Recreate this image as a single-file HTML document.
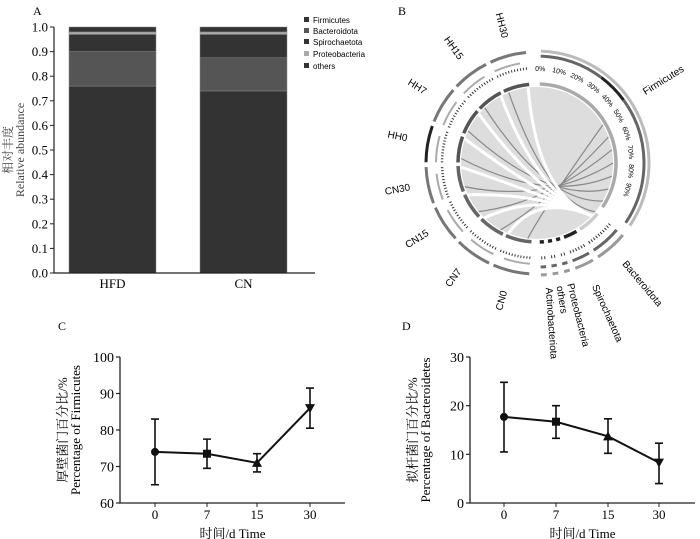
<!DOCTYPE html>
<html><head><meta charset="utf-8"><style>
html,body{margin:0;padding:0;background:#fff;}
svg{display:block;font-family:"Liberation Serif","Noto Serif CJK SC",serif;}
.sans{font-family:"Liberation Sans","Noto Sans CJK SC",sans-serif;}
</style></head><body>
<svg id="fig" width="700" height="539" viewBox="0 0 700 539">
<g id="pa"></g>
<g id="pb"></g>
<g id="pc"></g>
<g id="pd"></g>
</svg>
<script>
// ---- Panel A data ----
const aGroups = ["HFD","CN"];
const aSeries = ["Firmicutes","Bacteroidota","Spirochaetota","Proteobacteria","others"];
const aFirm = [0.76,0.74];
const aBact = [0.14,0.135];
const aSpir = [0.07,0.095];
const aProt = [0.01,0.01];
const aOther = [0.02,0.02];
const aTicks = ["0.0","0.1","0.2","0.3","0.4","0.5","0.6","0.7","0.8","0.9","1.0"];
// ---- Panel C data ----
const cTimes = ["0","7","15","30"];
const cMean = [74,73.5,71,86];
const cLow = [65,69.5,68.5,80.5];
const cHigh = [83,77.5,73.5,91.5];
const cTicks = [60,70,80,90,100];
// ---- Panel D data ----
const dMean = [17.7,16.7,13.7,8.3];
const dLow = [10.5,13.3,10.2,4];
const dHigh = [24.8,20,17.3,12.3];
const dTicks = [0,10,20,30];
// ---- Panel B data ----
const bSamples = ["CN0","CN7","CN15","CN30","HH0","HH7","HH15","HH30"];
const bPhyla = ["Firmicutes","Bacteroidota","Spirochaetota","Proteobacteria","others","Actinobacteriota"];
const bPhylaSpan = [122,17,10,3,3,3];

const NS="http://www.w3.org/2000/svg";
function mk(parent,tag,attrs,text){const e=document.createElementNS(NS,tag);for(const k in attrs)e.setAttribute(k,attrs[k]);if(text!==undefined)e.textContent=text;parent.appendChild(e);return e;}

// ===== Panel A =====
(function(){
const g=document.getElementById('pa');
const x0=54,yB=273,yT=27;
const ys=v=>yB-(yB-yT)*v;
const t=mk(g,'text',{x:33,y:15,'font-size':12},'A');

const colors=["#333","#555","#333","#aaa","#333"];
const cols=[aFirm,aBact,aSpir,aProt,aOther];
const bx=[69,200];const bw=87;
aGroups.forEach((grp,i)=>{
 let acc=0;
 cols.forEach((arr,s)=>{
  const v=arr[i];
  const r=mk(g,'rect',{x:bx[i],y:ys(acc+v),width:bw,height:ys(acc)-ys(acc+v),fill:colors[s],stroke:'#888','stroke-width':0.5});
  
  
  acc+=v;
 });
 const l=mk(g,'text',{x:bx[i]+bw/2,y:288,'font-size':13,'text-anchor':'middle'},grp);
 
});
const ax=mk(g,'path',{d:`M${x0} ${yT} V${yB} H315`,stroke:'#222','stroke-width':1.2,fill:'none'});

aTicks.forEach((tk,i)=>{
 const y=ys(+tk);
 mk(g,'line',{x1:x0-4,x2:x0,y1:y,y2:y,stroke:'#222'});
 const tt=mk(g,'text',{x:x0-6,y:y+4.5,'font-size':13,'text-anchor':'end'},tk);
 
});
const yt=mk(g,'text',{transform:'translate(12,150) rotate(-90)','font-size':12,'text-anchor':'middle',fill:'#444'});

mk(yt,'tspan',{x:0,dy:0},'相对丰度');
mk(yt,'tspan',{x:0,dy:12},'Relative abundance');
const lc=["#333","#555","#333","#aaa","#333"];
const ly=[23,34,45,57,69];
aSeries.forEach((s,i)=>{
 const le=mk(g,'g',{});
 
 mk(le,'rect',{x:304,y:ly[i]-6,width:5,height:5,fill:lc[i]});
 mk(le,'text',{x:313,y:ly[i],'font-size':8,class:'sans'},s);
});
})();

// ===== Panel B =====
(function(){
const g=document.getElementById('pb');
const cx=537,cy=163;
const lb=mk(g,'text',{x:398,y:15,'font-size':12},'B');

const P=(a,r)=>[cx+r*Math.sin(a*Math.PI/180),cy-r*Math.cos(a*Math.PI/180)];
function arc(a1,a2,r,col,w,dash,name){
 const p1=P(a1,r),p2=P(a2,r);const large=(a2-a1)>180?1:0;
 const e=mk(g,'path',{d:`M${p1[0]} ${p1[1]} A${r} ${r} 0 ${large} 1 ${p2[0]} ${p2[1]}`,fill:'none',stroke:col,'stroke-width':w});
 if(dash)e.setAttribute('stroke-dasharray',dash);
 
 return e;
}
const disk=mk(g,'circle',{cx:cx,cy:cy,r:76,fill:'#ddd'});

let a=2;const phyStart=[];
bPhyla.forEach((p,i)=>{
 const s=a,e=a+bPhylaSpan[i];phyStart.push([s,e]);
 const col=i===0?'#aaa':(i===1?'#ccc':'#222');
 arc(s,e,79,col,3.5,null,'inner-arc-'+p.toLowerCase());
 arc(s,e,112,i===0?'#bbb':'#999',3,null,'outer-arc-'+p.toLowerCase());
 if(i===0){arc(s,s+35,107,'#666',3,null,'outer-sub-arc');arc(s+35,s+52,107,'#222',3,null,'outer-sub-arc');arc(s+52,e,107,'#666',3,null,'outer-sub-arc');}
 else arc(s,e,104,'#666',3,null,'outer-sub-arc-'+p.toLowerCase());
 if(i>0)arc(s,e,95,'#333',3,'1 2','tick-ring-'+p.toLowerCase());
 a=e+(i===0?6:3);
});
for(let k=0;k<=9;k++){
 const ang=phyStart[0][0]+k*(bPhylaSpan[0]/10.5);
 const p=P(ang,92);
 const t=mk(g,'text',{x:p[0],y:p[1],'font-size':7,class:'sans','text-anchor':'middle',transform:`rotate(${ang} ${p[0]} ${p[1]})`},(k*10)+'%');
 
}
const sStart=184,sSpan=21.6;
bSamples.forEach((s,i)=>{
 const st=sStart+i*sSpan,en=st+sSpan-2.5;
 arc(st,en,79,i<4?'#666':'#555',3.5,null,'inner-arc-'+s.toLowerCase());
 arc(st,en,95,'#333',2.5,'1 2','tick-ring-'+s.toLowerCase());
 arc(st,en-4,101,'#aaa',2,null,'mid-arc-'+s.toLowerCase());
 arc(st,en,111,i===4?'#222':'#777',3,null,'outer-arc-'+s.toLowerCase());
 const p1=P(st+3,76);const tgt=P(60+i*10,76);
 const ch=mk(g,'path',{d:`M${p1[0]} ${p1[1]} Q${cx+10} ${cy+40} ${tgt[0]} ${tgt[1]}`,fill:'none',stroke:'#888','stroke-width':1.2});
 
 const p2=P(en-1,76);const t2=P(134,76);
 const ch2=mk(g,'path',{d:`M${p2[0]} ${p2[1]} Q${cx} ${cy+30} ${t2[0]} ${t2[1]}`,fill:'none',stroke:'#fff','stroke-width':3});
 
 const mid=st+sSpan/2;const lp=P(mid,142);
 const rot=mid-270;
 const lt=mk(g,'text',{x:lp[0],y:lp[1]+4,'font-size':10,class:'sans','text-anchor':'middle',transform:`rotate(${rot} ${lp[0]} ${lp[1]})`},s);
 
});
const plab=[[58,'Firmicutes',128],[140,'Bacteroidota',132],[156,'Spirochaetota',135],[166,'Proteobacteria',125],[171,'others',125],[176,'Actinobacteriota',125]];
plab.forEach(([ang,txt,r])=>{
 const p=P(ang,r);
 const t=mk(g,'text',{x:p[0],y:p[1],'font-size':10,class:'sans','text-anchor':'start',transform:`rotate(${ang-90} ${p[0]} ${p[1]})`},txt);
 
});
})();

// ===== Line panels =====
function linePanel(id,label,lx,x0,xEnd,yB,yT,vmin,vmax,ticks,mean,low,high,ycn,yen,tickX){
 const g=document.getElementById(id);
 const ys=v=>yB-(yB-yT)*(v-vmin)/(vmax-vmin);
 const l=mk(g,'text',{x:lx,y:330,'font-size':12},label);
 
 const ax=mk(g,'path',{d:`M${x0} ${yT} V${yB} H${xEnd}`,stroke:'#222','stroke-width':1.3,fill:'none'});
 
 ticks.forEach(tk=>{const y=ys(tk);mk(g,'line',{x1:x0-4,x2:x0,y1:y,y2:y,stroke:'#222','stroke-width':1.2});
  const t=mk(g,'text',{x:x0-6,y:y+5,'font-size':14,'text-anchor':'end'},tk);});
 cTimes.forEach((tm,i)=>{const x=tickX[i];mk(g,'line',{x1:x,x2:x,y1:yB,y2:yB+4,stroke:'#222'});
  const t=mk(g,'text',{x:x,y:yB+16,'font-size':13,'text-anchor':'middle'},tm);});
 const xt=mk(g,'text',{x:(x0+xEnd)/2,y:538,'font-size':13,'text-anchor':'middle'},'时间/d  Time');
 
 const yt=mk(g,'text',{transform:`translate(${x0-53},430) rotate(-90)`,'font-size':13,'text-anchor':'middle'});
 
 mk(yt,'tspan',{x:0,dy:0},ycn);mk(yt,'tspan',{x:0,dy:13},yen);
 const line=mk(g,'polyline',{points:mean.map((v,i)=>tickX[i]+','+ys(v)).join(' '),fill:'none',stroke:'#111','stroke-width':2});
 
 mean.forEach((v,i)=>{const x=tickX[i];
  const eb=mk(g,'path',{d:`M${x} ${ys(low[i])} V${ys(high[i])} M${x-4} ${ys(low[i])} H${x+4} M${x-4} ${ys(high[i])} H${x+4}`,stroke:'#111','stroke-width':1.6,fill:'none'});
  
  const y=ys(v);let m;
  if(i===0)m=mk(g,'circle',{cx:x,cy:y,r:4,fill:'#111'});
  else if(i===1)m=mk(g,'rect',{x:x-4,y:y-4,width:8,height:8,fill:'#111'});
  else if(i===2)m=mk(g,'path',{d:`M${x} ${y-5} L${x+5} ${y+4} L${x-5} ${y+4}Z`,fill:'#111'});
  else m=mk(g,'path',{d:`M${x} ${y+5} L${x+5} ${y-4} L${x-5} ${y-4}Z`,fill:'#111'});
  
 });
}
linePanel('pc','C',58,120,345,503,357,60,100,cTicks,cMean,cLow,cHigh,'厚壁菌门百分比/%','Percentage of Firmicutes',[155,207,257,310]);
linePanel('pd','D',402,470,695,503,357,0,30,dTicks,dMean,dLow,dHigh,'拟杆菌门百分比/%','Percentage of Bacteroidetes',[504,556,608,659]);
</script>
</body></html>
